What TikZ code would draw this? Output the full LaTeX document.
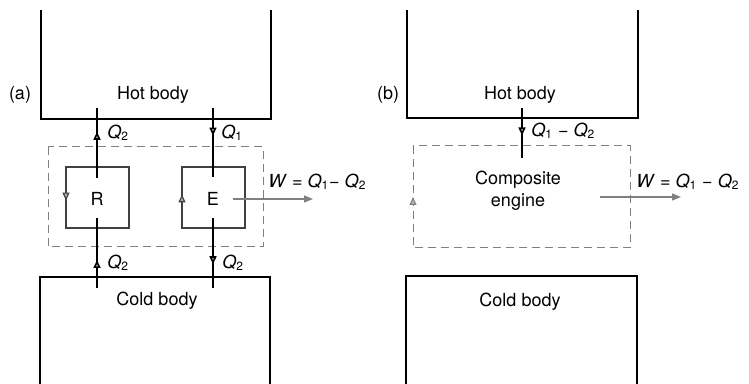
\documentclass[tikz,border=0pt]{standalone}
\usepackage{fontspec}
\setmainfont{TeX Gyre Heros}
\usetikzlibrary{arrows.meta,decorations.markings}
\newcommand{\myQ}[1]{\textit{Q}\textsubscript{#1}}
\begin{document}
\begin{tikzpicture}[x=0.5pt,y=-0.5pt,
  font=\fontsize{9}{11}\selectfont,
  body/.style={line width=1pt,black},
  flow/.style={line width=0.8pt,black},
  cyc/.style={line width=0.6pt,black!75},
  envelope/.style={gray,line width=0.5pt,dash pattern=on 4pt off 2.5pt},
  work/.style={gray,line width=0.7pt,-{Triangle[width=3.5pt,length=4.5pt]}},
  tip/.style={postaction={decorate},decoration={markings,
     mark=at position #1 with {\arrow{Triangle[width=3.5pt,length=4pt,fill=gray!60]}}}},
  txt/.style={inner sep=0pt},
  lab/.style={inner sep=0pt,anchor=west}]
\useasboundingbox (0,0) rectangle (749,384);

% ---------------- panel (a) ----------------
\draw[body] (41,10) -- (41,119) -- (271,119) -- (271,10);
\draw[body] (40,384) -- (40,277) -- (270,277) -- (270,384);
\node[txt] (hotA) at (153,95) {Hot body};
\node[txt] (coldA) at (157,301) {Cold body};
\node[txt] (a) at (20,95) {(a)};
\draw[envelope] (48,147) rectangle (263,247);

\draw[cyc] (66,167) rectangle (129,228);
\draw[cyc] (182,167) rectangle (245,228);
\path[cyc,tip=0.55] (66,167) -- (66,228);
\path[cyc,tip=0.55] (182,228) -- (182,167);
\node[txt] (R) at (97,199) {R};
\node[txt] (E) at (213,199) {E};

\coordinate (rtop) at (97,108);
\coordinate (rin) at (97,178);
\coordinate (rout) at (97,218);
\coordinate (rbot) at (97,288);
\coordinate (etop) at (213,108);
\coordinate (ein) at (213,177);
\coordinate (eout) at (213,218);
\coordinate (ebot) at (213,288);
\draw[flow,tip=0.66] (rin) -- (rtop);
\draw[flow,tip=0.40] (rbot) -- (rout);
\draw[flow,tip=0.40] (etop) -- (ein);
\draw[flow,tip=0.66] (eout) -- (ebot);

\node[lab] (q2a) at (107,133) {\myQ{2}};
\node[lab] (q1a) at (221,133) {\myQ{1}};
\node[lab] (q2b) at (107,263) {\myQ{2}};
\node[lab] (q2c) at (222,263) {\myQ{2}};

\coordinate (wstartA) at (233,199);
\coordinate (wendA) at (313,199);
\draw[work] (wstartA) -- (wendA);
\node[lab] (wA) at (268,182) {\textit{W} = \myQ{1}− \myQ{2}};

% ---------------- panel (b) ----------------
\draw[body] (407,10) -- (407,118) -- (638,118) -- (638,10);
\draw[body] (406,384) -- (406,276) -- (637,276) -- (637,384);
\node[txt] (hotB) at (520,95) {Hot body};
\node[txt] (coldB) at (520,302) {Cold body};
\node[txt] (b) at (388,95) {(b)};
\draw[envelope] (413,146) rectangle (630,248);
\path[envelope,tip=0.5] (413,248) -- (413,146);

\node[txt,align=center] (comp) at (518,191) {Composite\\engine};

\coordinate (btop) at (522,108);
\coordinate (bin) at (522,158);
\draw[flow,tip=0.55] (btop) -- (bin);
\node[lab] (q12) at (531,131) {\myQ{1} − \myQ{2}};

\coordinate (wstartB) at (600,197);
\coordinate (wendB) at (681,197);
\draw[work] (wstartB) -- (wendB);
\node[lab] (wB) at (636,182) {\textit{W} = \myQ{1} − \myQ{2}};
\end{tikzpicture}
\end{document}
